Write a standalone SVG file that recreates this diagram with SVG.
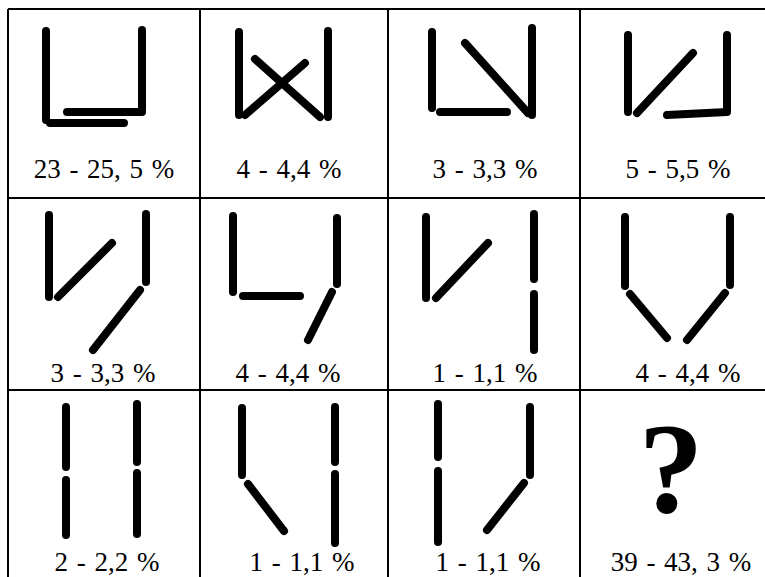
<svg xmlns="http://www.w3.org/2000/svg" width="765" height="577" viewBox="0 0 765 577">
<style>
.g{stroke:#000;stroke-width:2;fill:none}
.s{stroke:#000;stroke-width:8;stroke-linecap:round;fill:none}
.t{font-family:"Liberation Serif","Times New Roman",serif;font-size:27px;fill:#000;text-anchor:middle;word-spacing:2px}
.q{font-family:"Liberation Serif","Times New Roman",serif;font-size:130px;font-weight:bold;fill:#000;text-anchor:middle}
</style>
<rect width="765" height="577" fill="#fff"/>
<g id="grid">
<line class="g" x1="8" y1="9" x2="765" y2="9"/>
<line class="g" x1="8" y1="198" x2="765" y2="198"/>
<line class="g" x1="8" y1="390" x2="765" y2="390"/>
<line class="g" x1="8" y1="9" x2="8" y2="577"/>
<line class="g" x1="200" y1="9" x2="200" y2="577"/>
<line class="g" x1="388" y1="9" x2="388" y2="577"/>
<line class="g" x1="580" y1="9" x2="580" y2="577"/>
</g>
<g id="cell1">
<path class="s" d="M46 31V120M142 30V110M67 112H142M50 123H124"/>
<text class="t" x="104" y="178">23 - 25, 5 %</text>
</g>
<g id="cell2">
<path class="s" d="M239 32V115M328 31V117M245 115L305 63M255 59L320 117"/>
<text class="t" x="289" y="178">4 - 4,4 %</text>
</g>
<g id="cell3">
<path class="s" d="M432 32V108M532 28V115M465 43L528 113M440 112H507"/>
<text class="t" x="485" y="178">3 - 3,3 %</text>
</g>
<g id="cell4">
<path class="s" d="M628 35V112M637 113L693 53M727 35V112M667 115L727 112"/>
<text class="t" x="678" y="178">5 - 5,5 %</text>
</g>
<g id="cell5">
<path class="s" d="M49 215V297M58 297L112 243M146 214V282M140 290L93 350"/>
<text class="t" x="103" y="382">3 - 3,3 %</text>
</g>
<g id="cell6">
<path class="s" d="M233 216V292M243 296H300M337 218V284M332 292L308 340"/>
<text class="t" x="288" y="382">4 - 4,4 %</text>
</g>
<g id="cell7">
<path class="s" d="M426 217V298M436 298L488 243M534 214V279M534 294V350"/>
<text class="t" x="485" y="382">1 - 1,1 %</text>
</g>
<g id="cell8">
<path class="s" d="M625 217V286M730 217V285M630 294L667 338M725 293L687 340"/>
<text class="t" x="688" y="382">4 - 4,4 %</text>
</g>
<g id="cell9">
<path class="s" d="M66 407V467M66 480V535M137 404V462M137 473V534"/>
<text class="t" x="107" y="571">2 - 2,2 %</text>
</g>
<g id="cell10">
<path class="s" d="M242 408V475M248 484L284 531M335 407V462M335 474V543"/>
<text class="t" x="302" y="571">1 - 1,1 %</text>
</g>
<g id="cell11">
<path class="s" d="M438 404V457M438 471V542M530 407V475M524 483L487 530"/>
<text class="t" x="488" y="571">1 - 1,1 %</text>
</g>
<g id="cell12">
<text class="q" x="671" y="512">?</text>
<text class="t" x="681" y="571">39 - 43, 3 %</text>
</g>
</svg>
